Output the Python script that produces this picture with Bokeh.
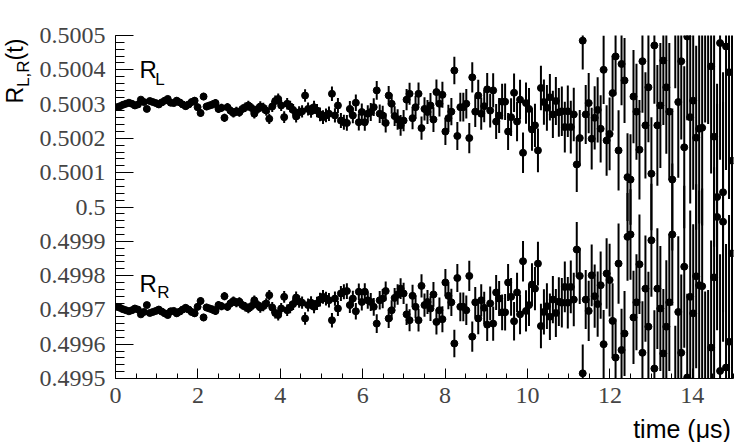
import math
from bokeh.plotting import figure
from bokeh.models import Range1d, FixedTicker, Label
from bokeh.layouts import row, column
from bokeh.embed import file_html
from bokeh.resources import INLINE

# ---------------- data (offsets from 0.5 in units of 1e-6) ----------------
n_bins = 207
bin_width = 15.0 / n_bins  # microseconds

rl_ppm = [
    291, 294, 298, 301, 304, 301, 296, 299, 313, 306,
    286, 309, 306, 303, 299, 305, 310, 315, 304, 303,
    310, 305, 299, 294, 299, 306, 310, 291, 274, 322,
    293, 296, 299, 303, 286, 289, 260, 291, 281, 274,
    279, 276, 286, 291, 296, 289, 272, 285, 293, 289,
    281, 257, 293, 309, 315, 296, 262, 301, 293, 283,
    264, 276, 279, 325, 286, 279, 291, 281, 270, 262,
    267, 272, 330, 267, 296, 252, 247, 245, 286, 267,
    304, 247, 277, 247, 272, 277, 291, 340, 272, 267,
    245, 325, 301, 265, 255, 238, 252, 313, 330, 259,
    291, 330, 230, 286, 277, 296, 255, 335, 301, 327,
    220, 259, 278, 398, 207, 291, 291, 301, 201, 378,
    278, 325, 272, 294, 343, 281, 340, 249, 267, 307,
    307, 220, 262, 333, 249, 313, 158, 303,
    286, 226, 238, 165, 347, 306, 289, 320, 270, 309,
    276, 279, 233, 279, 233, 270, 124, 201, 485, 270,
    303, 199, 260, 283, 228, 400, 194, 213, 332, 439,
    165, 417, 369, 87,
    80, 322, 278, 167, 425, 238, 349, 97, 471, 238,
    296, 427, 349, 278, 80, 560, 306, 425, 174, 497,
    262, 310, 202, 228, 231, -540, 545, 410, 205, 29,
    478, 43, 468, 393, 135,
]

rr_ppm = [
    -291, -294, -298, -301, -304, -301, -296, -299, -313, -306,
    -286, -309, -306, -303, -299, -305, -310, -315, -304, -303,
    -310, -305, -299, -294, -299, -306, -310, -291, -274, -322,
    -293, -296, -299, -303, -286, -289, -260, -291, -281, -274,
    -279, -276, -286, -291, -296, -289, -272, -285, -293, -289,
    -281, -257, -293, -309, -315, -296, -262, -301, -293, -283,
    -264, -276, -279, -325, -286, -279, -291, -281, -270, -262,
    -267, -272, -330, -267, -296, -252, -247, -245, -286, -267,
    -304, -247, -277, -247, -272, -277, -291, -340, -272, -267,
    -245, -325, -301, -265, -255, -238, -252, -313, -330, -259,
    -291, -330, -230, -286, -277, -296, -255, -335, -301, -327,
    -220, -259, -278, -398, -207, -291, -291, -301, -201, -378,
    -278, -325, -272, -294, -343, -281, -340, -249, -267, -307,
    -307, -220, -262, -333, -249, -313, -158, -303,
    -286, -226, -238, -165, -347, -306, -289, -320, -270, -309,
    -276, -279, -233, -279, -233, -270, -124, -201, -485, -270,
    -303, -199, -260, -283, -228, -400, -194, -213, -332, -439,
    -165, -417, -369, -87,
    -80, -322, -278, -167, -425, -238, -349, -97, -471, -238,
    -296, -427, -349, -278, -80, -560, -306, -425, -174, -497,
    -262, -310, -202, -228, -231, 540, -545, -410, -205, -29,
    -478, -43, -468, -393, -135,
]

err_ppm = [
    7, 7, 7, 7, 7, 8, 8, 8, 8, 8, 8, 8, 8, 9,
    9, 9, 9, 9, 9, 9, 10, 10, 10, 10, 10, 10, 11, 11,
    11, 11, 11, 11, 12, 12, 12, 12, 12, 12, 13, 13, 13, 13,
    13, 14, 14, 14, 14, 14, 15, 15, 15, 15, 16, 16, 16, 16,
    17, 17, 17, 17, 18, 18, 18, 18, 19, 19, 19, 19, 20, 20,
    20, 21, 21, 21, 22, 22, 22, 23, 23, 23, 24, 24, 25,
    25, 25, 26, 26, 27, 27, 28, 28, 28, 29, 29, 30, 30, 31,
    31, 32, 32, 33, 33, 34, 34, 35, 36, 36, 37, 37, 38, 39,
    39, 40, 40, 41, 42, 42, 43, 44, 44, 45, 46, 47, 47, 48,
    49, 50, 51, 51, 52, 53, 54, 55, 56, 57, 58, 59, 60,
    61, 62, 63, 64, 65, 66, 67, 68, 69, 70, 71, 72, 74, 75,
    77, 78, 80, 82, 84, 86, 88, 90, 92, 95, 98, 100, 103, 106,
    110, 113, 117, 120, 124, 128, 132, 136, 140, 145, 150, 155, 160, 165,
    170, 176, 182, 188, 194, 200, 207, 214, 221, 228, 236, 244, 252, 260,
    268, 276, 285, 294, 303, 312, 321, 330, 340, 350, 360, 370, 380,
]

x_major_ticks = [0, 2, 4, 6, 8, 10, 12, 14]
x_minor_ticks = [0, 0.5, 1, 1.5, 2, 2.5, 3, 3.5, 4, 4.5, 5, 5.5, 6, 6.5, 7, 7.5,
                 8, 8.5, 9, 9.5, 10, 10.5, 11, 11.5, 12, 12.5, 13, 13.5, 14, 14.5, 15]
y_tick_labels = ["0.4995", "0.4996", "0.4997", "0.4998", "0.4999", "0.5",
                 "0.5001", "0.5002", "0.5003", "0.5004", "0.5005"]

# ---------------- derived columns ----------------
t = [(i + 0.5) * bin_width for i in range(n_bins)]
rl = [0.5 + d * 1e-6 for d in rl_ppm]
rr = [0.5 + d * 1e-6 for d in rr_ppm]
err = [e * 1e-6 for e in err_ppm]

X0, X1 = 0.0, 15.0
Y0, Y1 = 0.4995, 0.5005

W, H = 747, 442
LEFT_W = 36          # strip holding the y-axis title
MAIN_H = 414         # main figure height, below it a strip for the x title
SANS = "Liberation Sans"
SERIF = "Liberation Serif"

# ---------------- main plot ----------------
p = figure(width=W - LEFT_W, height=MAIN_H, x_range=Range1d(X0, X1), y_range=Range1d(Y0, Y1),
           output_backend="svg", toolbar_location=None, title=None,
           min_border_left=113 - LEFT_W, min_border_right=W - 733,
           min_border_top=35, min_border_bottom=MAIN_H - 378)
p.background_fill_color = "white"
p.border_fill_color = "white"
p.outline_line_color = None
p.xgrid.visible = False
p.ygrid.visible = False

p.xaxis.ticker = FixedTicker(ticks=x_major_ticks, minor_ticks=x_minor_ticks)
p.xaxis.major_tick_in = 10
p.xaxis.major_tick_out = 0
p.xaxis.minor_tick_in = 5
p.xaxis.minor_tick_out = 0
p.xaxis.major_label_text_font = SERIF
p.xaxis.major_label_text_font_size = "24px"
p.xaxis.major_label_standoff = 9
p.xaxis.axis_line_color = "black"
p.xaxis.major_tick_line_color = "black"
p.xaxis.minor_tick_line_color = "black"

y_vals = [float(s) for s in y_tick_labels]
y_minor = [round(Y0 + k * 0.00002, 6) for k in range(51)]
p.yaxis.ticker = FixedTicker(ticks=y_vals, minor_ticks=y_minor)
p.yaxis.major_label_overrides = {float(s): s for s in y_tick_labels}
p.yaxis.major_tick_in = 18
p.yaxis.major_tick_out = 0
p.yaxis.minor_tick_in = 9
p.yaxis.minor_tick_out = 0
p.yaxis.major_label_text_font = SERIF
p.yaxis.major_label_text_font_size = "24px"
p.yaxis.major_label_standoff = 10
p.yaxis.axis_line_color = "black"
p.yaxis.major_tick_line_color = "black"
p.yaxis.minor_tick_line_color = "black"

for vals in (rl, rr):
    lo = [v - e for v, e in zip(vals, err)]
    hi = [v + e for v, e in zip(vals, err)]
    p.segment(x0=t, y0=lo, x1=t, y1=hi, line_color="black", line_width=2)
    p.scatter(t, vals, size=7, color="black", marker="circle")


def dx(px):
    return X0 + (px - 113) / 620.0 * (X1 - X0)


def dy(py):
    return Y1 - (py - 35) / 343.0 * (Y1 - Y0)


def lab(fig, x, y, text, size, angle=0.0, align="left"):
    fig.add_layout(Label(x=x, y=y, text=text, text_font=SANS, text_font_size=size,
                         text_align=align, text_baseline="alphabetic", angle=angle,
                         text_color="black"))


# series labels inside the frame (anchor positions compensate the renderer's baseline offset)
lab(p, dx(137), dy(69), "R", "24px")
lab(p, dx(153), dy(79), "L", "17px")
lab(p, dx(137), dy(283), "R", "24px")
lab(p, dx(155), dy(292), "R", "17px")


def strip(width, height, x0, y0):
    f = figure(width=width, height=height, x_range=Range1d(x0, x0 + width),
               y_range=Range1d(y0 + height, y0), output_backend="svg", title=None,
               toolbar_location=None, x_axis_location=None, y_axis_location=None,
               min_border_left=0, min_border_right=0, min_border_top=0, min_border_bottom=0)
    f.outline_line_color = None
    f.grid.visible = False
    f.background_fill_color = "white"
    f.border_fill_color = "white"
    return f


# y-axis title R_{L,R}(t), rotated (page pixel coordinates)
left = strip(LEFT_W, H, 0, 0)
lab(left, 14, 103, "R", "23px", math.pi / 2)
lab(left, 23, 86.4, "L,R", "17px", math.pi / 2)
lab(left, 14, 59.9, "(t)", "23px", math.pi / 2)

# x-axis title
bottom = strip(W - LEFT_W, H - MAIN_H, LEFT_W, MAIN_H)
lab(bottom, 744, 428, "time (\u03bcs)", "25px", 0.0, "right")

layout = row(left, column(p, bottom))

open("out.html", "w").write(file_html(layout, INLINE))
